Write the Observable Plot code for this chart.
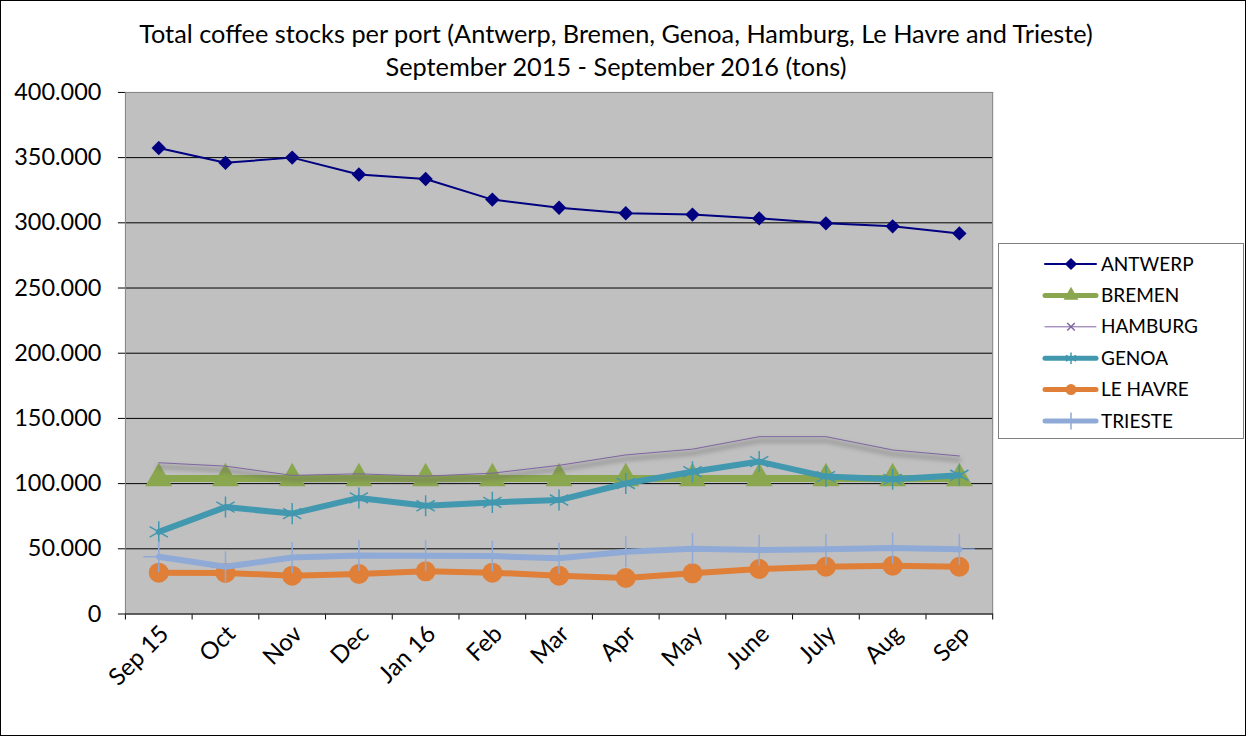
<!DOCTYPE html>
<html>
<head>
<meta charset="utf-8">
<script src="https://cdn.jsdelivr.net/npm/d3@7"></script>
<script src="https://cdn.jsdelivr.net/npm/@observablehq/plot@0.6"></script>
<style>
  html, body { margin: 0; padding: 0; background: #fff; }
  #wrap { position: relative; width: 1246px; height: 736px; box-sizing: border-box; border: 1px solid #000; overflow: hidden; font-family: Lato, "Open Sans", sans-serif; }
  #title { position: absolute; left: 0; top: 16px; width: 1230px; text-align: center; font-size: 25.3px; line-height: 33px; color: #000; }
  #chart { position: absolute; left: -1px; top: -1px; }
  #legend { position: absolute; left: 997px; top: 242px; }
  .shadow { filter: blur(2px); }
</style>
</head>
<body>
<div id="wrap">
  <div id="chart"></div>
  <div id="title">Total coffee stocks per port (Antwerp, Bremen, Genoa, Hamburg, Le Havre and Trieste)<br>September 2015 - September 2016 (tons)</div>
  <div id="legend"></div>
</div>
<script>
const months = ["Sep 15", "Oct", "Nov", "Dec", "Jan 16", "Feb", "Mar", "Apr", "May", "June", "July", "Aug", "Sep"];
const ports = ["ANTWERP", "BREMEN", "HAMBURG", "GENOA", "LE HAVRE", "TRIESTE"];
const antwerp = [357400, 346000, 350000, 337000, 333600, 317800, 311600, 307300, 306300, 303400, 299600, 297300, 291900];
const bremen  = [104000, 104000, 104000, 104000, 104000, 104000, 104000, 104000, 104000, 104000, 104000, 104000, 104000];
const hamburg = [116000, 113400, 106300, 107500, 105700, 108000, 114000, 122000, 126400, 136000, 136000, 125800, 121200];
const genoa   = [63000, 82000, 77000, 89000, 83000, 85600, 87400, 100100, 109100, 116900, 105400, 103300, 106400];
const lehavre = [31700, 31500, 29400, 30700, 32700, 31700, 29400, 27600, 31200, 34500, 36200, 37000, 36200];
const trieste = [43900, 36200, 43400, 44900, 44700, 44400, 42700, 47700, 50000, 49000, 49600, 50600, 49600];
const yTicks = [0, 50000, 100000, 150000, 200000, 250000, 300000, 350000, 400000];

const seriesValues = [antwerp, bremen, hamburg, genoa, lehavre, trieste];
const colors  = ["#000080", "#8AA64E", "#8064A2", "#4198AF", "#E07F38", "#8FAAD6"];
const widths  = [2, 7, 1, 6, 6, 6];
const symbols = ["diamond2", "triangle", "times", "asterisk", "circle", "plus"];
const msizes  = [6.5, 10, 3, 10, 10, 10];

const rows = [];
ports.forEach((p, s) => seriesValues[s].forEach((v, i) => rows.push({port: p, s, i, value: v})));

const locale = d3.formatLocale({decimal: ",", thousands: ".", grouping: [3], currency: ["", ""]});
const fmt = locale.format(",");

const marks = [
  Plot.frame({fill: "#C0C0C0", stroke: null}),
  Plot.gridY(yTicks.filter(d => d > 0 && d < 400000), {stroke: "#000", strokeOpacity: 1, strokeWidth: 1}),
  Plot.frame({stroke: "#808080", strokeWidth: 1}),
  Plot.axisY(yTicks, {tickFormat: fmt, tickSize: 7, tickPadding: 17, fontSize: 23.5, stroke: "#000", color: "#000", label: null}),
  Plot.axisX(d3.range(-0.5, 13, 1), {tickFormat: () => "", tickSize: 6, stroke: "#000", label: null}),
  Plot.axisX(d3.range(13), {tickFormat: i => months[i], tickSize: 0, tickRotate: -45, tickPadding: 16, fontSize: 24, dx: 6, label: null}),
  Plot.ruleY([0], {stroke: "#404040", strokeWidth: 1.5})
];

ports.forEach((p, s) => {
  const data = rows.filter(d => d.s === s);
  if (p === "HAMBURG") {
    marks.push(Plot.line(data, {x: "i", y: "value", stroke: "#606060", strokeWidth: 4, strokeOpacity: 0.4, dy: 4, className: "shadow"}));
  }
  marks.push(Plot.line(data, {x: "i", y: "value", stroke: colors[s], strokeWidth: widths[s], strokeLinejoin: "round", strokeLinecap: "round"}));
  if (p === "HAMBURG") return;
  const sym = symbols[s];
  const stroked = sym === "asterisk" || sym === "plus" || sym === "times";
  marks.push(Plot.dot(data, {
    x: "i", y: "value", symbol: () => sym, r: msizes[s],
    fill: stroked ? "none" : colors[s],
    stroke: colors[s], strokeWidth: stroked ? 1.5 : 0
  }));
});

const chart = Plot.plot({
  width: 1246,
  height: 736,
  marginLeft: 125,
  marginRight: 253,
  marginTop: 92,
  marginBottom: 122,
  style: {fontFamily: "Lato, 'Open Sans', sans-serif", background: "transparent", color: "#000"},
  x: {type: "linear", domain: [-0.5, 12.5], axis: null, label: null},
  y: {domain: [0, 400000], axis: null, label: null},
  symbol: {type: "identity"},
  marks
});
document.getElementById("chart").appendChild(chart);

// Legend
const lg = d3.select("#legend").append("svg").attr("width", 247).attr("height", 197);
lg.append("rect").attr("x", 0.5).attr("y", 0.5).attr("width", 245).attr("height", 195)
  .attr("fill", "#fff").attr("stroke", "#808080");
ports.forEach((p, s) => {
  const y = 21 + s * 31.4;
  const g = lg.append("g").attr("transform", `translate(0,${y})`);
  g.append("line").attr("x1", 47).attr("x2", 98).attr("y1", 0).attr("y2", 0)
    .attr("stroke", colors[s]).attr("stroke-width", Math.min(widths[s], 5)).attr("stroke-linecap", "round");
  const symName = "symbol" + symbols[s][0].toUpperCase() + symbols[s].slice(1);
  const symType = d3[symName] || d3.symbolCircle;
  const stroked = ["asterisk", "plus", "times"].includes(symbols[s]);
  const r = s === 2 ? 3.5 : 5.5;
  g.append("path").attr("transform", "translate(73,0)")
    .attr("d", d3.symbol(symType, Math.PI * r * r)())
    .attr("fill", stroked ? "none" : colors[s]).attr("stroke", colors[s]).attr("stroke-width", stroked ? 1.5 : 0);
  g.append("text").attr("x", 103).attr("y", 0).attr("dy", "0.35em")
    .attr("font-size", 19).attr("font-family", "Lato, 'Open Sans', sans-serif").text(p);
});
</script>
</body>
</html>
